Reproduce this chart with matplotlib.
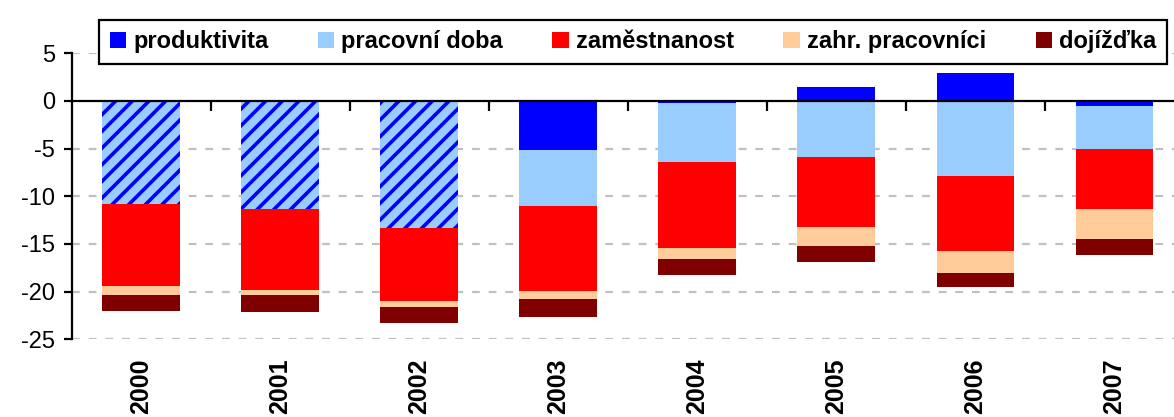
import matplotlib
matplotlib.use('Agg')
import matplotlib.pyplot as plt
from matplotlib.markers import TICKDOWN
import numpy as np

# data (percentage points)
years = ['2000', '2001', '2002', '2003', '2004', '2005', '2006', '2007']
# 2000-2002: produktivita + pracovni doba not split -> hatched bar
nerozliseno = [-10.8, -11.3, -13.3, 0, 0, 0, 0, 0]
produktivita = [0, 0, 0, -5.1, -0.25, 1.5, 2.9, -0.5]
pracovni_doba = [0, 0, 0, -5.9, -6.1, -5.85, -7.85, -4.5]
zamestnanost = [-8.6, -8.5, -7.65, -8.9, -9.05, -7.35, -7.9, -6.3]
zahr_pracovnici = [-0.95, -0.55, -0.65, -0.85, -1.15, -2.0, -2.3, -3.15]
dojizdka = [-1.65, -1.75, -1.65, -1.9, -1.75, -1.65, -1.45, -1.75]

labels = ['produktivita', 'pracovní doba', 'zaměstnanost', 'zahr. pracovníci', 'dojížďka']
colors = ['#0000FF', '#99CCFF', '#FF0000', '#FFCC99', '#800000']

plt.rcParams['font.family'] = ['Liberation Sans', 'DejaVu Sans']
plt.rcParams['axes.unicode_minus'] = False
plt.rcParams['hatch.linewidth'] = 2.6

fig = plt.figure(figsize=(11.74, 4.17), dpi=100)
ax = fig.add_axes([71.7 / 1174, 1 - 339.3 / 417, (1184 - 71.7) / 1174, (339.3 - 53.3) / 417])

x = np.arange(len(years))
w = 0.56
pos_base = np.zeros(len(years))
neg_base = np.zeros(len(years))


def stack(vals, **kw):
    # kladne hodnoty nahoru, zaporne dolu
    global pos_base, neg_base
    vals = np.array(vals, dtype=float)
    bottoms = np.where(vals >= 0, pos_base, neg_base)
    bars = ax.bar(x, vals, w, bottom=bottoms, zorder=2, **kw)
    pos_base = pos_base + np.where(vals > 0, vals, 0)
    neg_base = neg_base + np.where(vals < 0, vals, 0)
    return bars


stack(nerozliseno, color='#99CCFF', edgecolor='#0000FF', linewidth=0, hatch='//')
handles = []
for vals, lab, col in zip([produktivita, pracovni_doba, zamestnanost, zahr_pracovnici, dojizdka],
                          labels, colors):
    handles.append(stack(vals, color=col, linewidth=0, label=lab))

ax.set_xlim(-0.5, len(years) - 0.5)
ax.set_ylim(-25, 5)
ax.set_yticks(np.arange(-25, 6, 5))
for yv in [5, -5, -10, -15, -20, -25]:
    ax.axhline(yv, color='#C0C0C0', lw=1.6, ls=(0, (3.5, 4)), zorder=1)
ax.axhline(0, color='black', lw=1.6, zorder=3)
ax.plot(np.arange(0.5, len(years) - 0.5), np.zeros(len(years) - 1), ls='none',
        marker=TICKDOWN, ms=7, mew=1.6, color='black', zorder=3, clip_on=False)

for s in ['top', 'right', 'bottom']:
    ax.spines[s].set_visible(False)
ax.spines['left'].set_linewidth(1.6)
ax.tick_params(axis='y', length=6, width=1.6, pad=6, labelsize=17)
ax.set_xticks(x)
ax.set_xticklabels(years, rotation=90, fontsize=18, fontweight='bold', va='top')
ax.tick_params(axis='x', length=0, pad=14)

leg = ax.legend(handles=handles, loc='lower left', ncol=5, mode='expand',
                bbox_to_anchor=(99 / 1174, 1 - 64 / 417, (1167 - 99) / 1174, 50 / 417),
                bbox_transform=fig.transFigure, borderaxespad=0, borderpad=0.45,
                handlelength=0.7, handleheight=0.7, handletextpad=0.3,
                prop={'weight': 'bold', 'size': 17}, fancybox=False, framealpha=1)
leg.get_frame().set_edgecolor('black')
leg.get_frame().set_linewidth(1.6)

fig.savefig('out.png', dpi=100)
